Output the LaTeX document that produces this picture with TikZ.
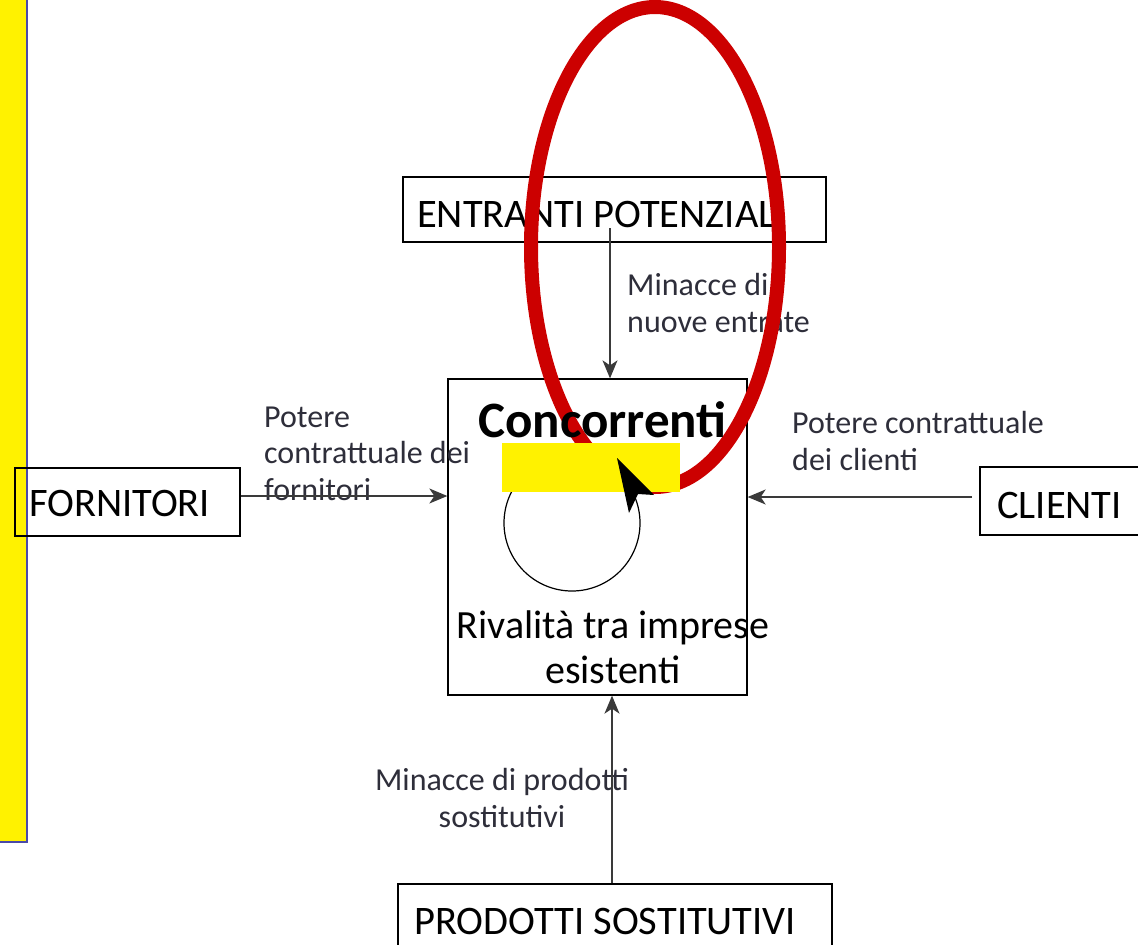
\documentclass[tikz,border=0pt]{standalone}
\usepackage{fontspec}
\setmainfont{Carlito}
\usetikzlibrary{arrows.meta}
\definecolor{lblgray}{HTML}{2E2E3A}
\definecolor{conngray}{HTML}{3A3A3A}
\definecolor{barblue}{HTML}{4A4AA8}
\definecolor{markred}{HTML}{CC0000}
\begin{document}
\begin{tikzpicture}[x=1pt,y=-1pt,
  box/.style={draw=black, line width=1.3pt, inner sep=0pt},
  boxtext/.style={font=\fontsize{40.5}{48}\selectfont, inner sep=0pt, anchor=west},
  lbl/.style={font=\fontsize{32}{36.5}\selectfont, text=lblgray, inner sep=0pt},
  conn/.style={draw=conngray, line width=1.3pt,
    -{Stealth[length=18pt,width=15pt,inset=5pt]}},
]
\useasboundingbox (0,0) rectangle (1138,945);

% side bar
\fill[yellow] (0,0) rectangle (27,842);
\draw[barblue, line width=1.5pt] (27,0) -- (27,842) -- (0,842);

% boxes
\node[box, minimum width=225pt, minimum height=68pt] (forn) at (127.5,502) {};
\node[box, minimum width=423pt, minimum height=65pt] (entr) at (614.5,209.5) {};
\node[box, minimum width=299pt, minimum height=316pt] (conc) at (597.5,537) {};
\node[box, minimum width=200pt, minimum height=68pt] (cli) at (1080,501) {};
\node[box, minimum width=434pt, minimum height=100pt] (prod) at (615,934) {};

% box texts
\node[boxtext] (fornt) at (29,503.5) {FORNITORI};
\node[boxtext] (entrt) at (417,214.5) {ENTRANTI POTENZIALI};
\node[boxtext] (clit) at (997,505.5) {CLIENTI};
\node[boxtext] (prodt) at (414,921) {PRODOTTI SOSTITUTIVI};
% multi-line nodes: the base anchor sits on the last line
\node[font=\fontsize{40}{45}\selectfont, inner sep=0pt, align=center, anchor=base]
  (rival) at (613,683) {Rivalità tra imprese\\esistenti};

% labels
\node[lbl, align=left, anchor=base west] (lforn) at (264,500)
  {Potere\\contrattuale dei\\fornitori};
\node[lbl, align=left, anchor=base west] (lentr) at (627,332)
  {Minacce di\\nuove entrate};
\node[lbl, align=left, anchor=base west] (lcli) at (792,470)
  {Potere contrattuale\\dei clienti};
\node[lbl, align=center, anchor=base] (lprod) at (502,827)
  {Minacce di prodotti\\sostitutivi};

% connectors
\coordinate (ya) at (0,496);
\coordinate (entrs) at (610,228);
\coordinate (clis) at (972,497);
\coordinate (px) at (612,0);
\draw[conn] (forn.east |- ya) -- (conc.west |- ya);
\draw[conn] (entrs) -- (conc.north -| entrs);
\draw[conn] (clis) -- (conc.east |- clis);
\draw[conn] (prod.north -| px) -- (conc.south -| px);

% rivalry cycle
\draw[black, line width=1.2pt] (572,523) circle [radius=68];

% highlight marks
\draw[markred, line width=14pt] (655,247) ellipse [x radius=124, y radius=240];
\fill[yellow] (502,443) rectangle (680,492);
\node[font=\fontsize{51}{56}\selectfont\bfseries, inner sep=0pt, anchor=base]
  (conct) at (602.5,437) {Concorrenti};

% cycle arrowhead
\fill[black] (617,458) -- (654,495) -- (638,494) -- (629,513) -- cycle;
\end{tikzpicture}
\end{document}
